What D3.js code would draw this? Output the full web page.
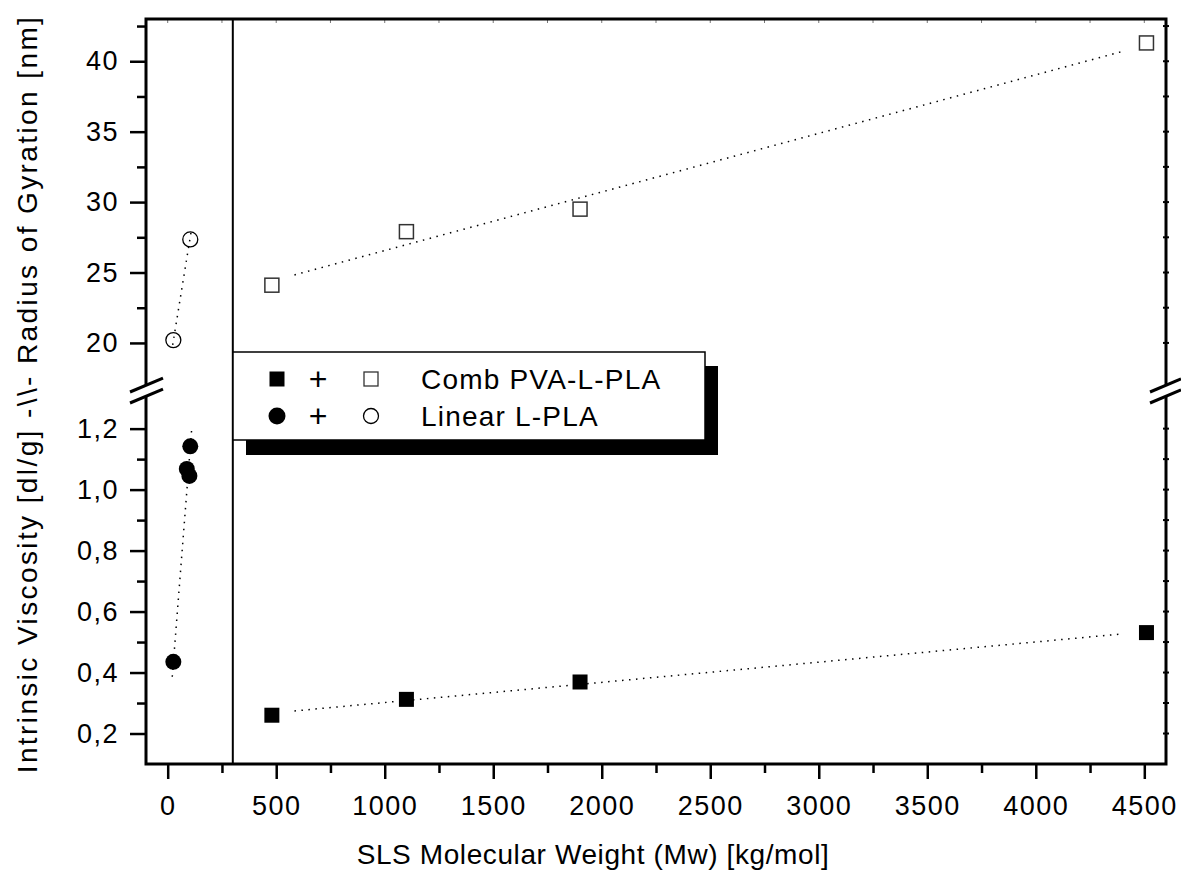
<!DOCTYPE html>
<html>
<head>
<meta charset="utf-8">
<script src="https://cdn.jsdelivr.net/npm/d3@7.9.0/dist/d3.min.js"></script>
<style>
  body { margin: 0; background: #fff; }
  text { font-family: "Liberation Sans", Arial, sans-serif; fill: #000; }
</style>
</head>
<body>
<div id="chart"></div>
<script>
// values
const combMw = [480, 1100, 1900, 4510];
const combVisc = [0.26, 0.312, 0.369, 0.531];
const combRg = [24.1, 27.9, 29.5, 41.3];
const linViscMw = [26, 88, 100, 104];
const linVisc = [0.435, 1.068, 1.045, 1.142];
const linRgMw = [26, 104];
const linRg = [20.2, 27.35];

// dotted fit lines, end points
const combViscFitMw = [584, 4387];
const combViscFit = [0.274, 0.526];
const combRgFitMw = [584, 4390];
const combRgFit = [24.83, 40.66];
const linViscFitMw = [21, 111];
const linViscFit = [0.386, 1.203];
const linRgFitMw = [23, 108];
const linRgFit = [19.86, 27.91];

// ticks
const xTicks = [0, 500, 1000, 1500, 2000, 2500, 3000, 3500, 4000, 4500];
const xMinor = [250, 750, 1250, 1750, 2250, 2750, 3250, 3750, 4250];
const viscTicks = [0.2, 0.4, 0.6, 0.8, 1.0, 1.2];
const viscMinor = [0.3, 0.5, 0.7, 0.9, 1.1];
const rgTicks = [20, 25, 30, 35, 40];
const rgMinor = [22.5, 27.5, 32.5, 37.5, 42.5];
const divider = 300;

const legendLabels = ['Comb PVA-L-PLA', 'Linear L-PLA'];
const xTitle = 'SLS Molecular Weight (Mw) [kg/mol]';
const yTitle = 'Intrinsic Viscosity [dl/g]  -\\\\- Radius of Gyration [nm]';

const width = 1181, height = 877;
const L = 146, R = 1166, T = 19, B = 764;

const svg = d3.select('#chart').append('svg')
  .attr('width', width).attr('height', height);

const x = d3.scaleLinear().domain([-100, 4600]).range([L, R]);
const yRg = d3.scaleLinear().domain([16.8, 43]).range([388, T]);
const yVisc = d3.scaleLinear().domain([0.1, 1.33]).range([B, 389]);

// axes
function styleAxis(g) {
  g.select('.domain').remove();
  g.selectAll('.tick line').attr('stroke', '#000').attr('stroke-width', 2.5);
  g.selectAll('.tick text').attr('font-size', 27).attr('letter-spacing', 1.5);
}

svg.append('g').attr('transform', `translate(0,${B})`)
  .call(d3.axisBottom(x).tickValues(xTicks).tickSize(15).tickPadding(17).tickFormat(d3.format('d')))
  .call(styleAxis);
svg.append('g').attr('transform', `translate(0,${B})`)
  .call(d3.axisBottom(x).tickValues(xMinor).tickSize(9).tickFormat(''))
  .call(styleAxis);

const commaFmt = (d) => d3.format('.1f')(d).replace('.', ',');
svg.append('g').attr('transform', `translate(${L},0)`)
  .call(d3.axisLeft(yVisc).tickValues(viscTicks).tickSize(16).tickPadding(11).tickFormat(commaFmt))
  .call(styleAxis);
svg.append('g').attr('transform', `translate(${L},0)`)
  .call(d3.axisLeft(yVisc).tickValues(viscMinor).tickSize(9).tickFormat(''))
  .call(styleAxis);
svg.append('g').attr('transform', `translate(${L},0)`)
  .call(d3.axisLeft(yRg).tickValues(rgTicks).tickSize(16).tickPadding(11).tickFormat(d3.format('d')))
  .call(styleAxis);
svg.append('g').attr('transform', `translate(${L},0)`)
  .call(d3.axisLeft(yRg).tickValues(rgMinor).tickSize(9).tickFormat(''))
  .call(styleAxis);

// tiny ticks on top and right
svg.append('g').selectAll('line').data(xTicks.concat(xMinor)).join('line')
  .attr('x1', (d) => x(d)).attr('x2', (d) => x(d))
  .attr('y1', T).attr('y2', T + 4)
  .attr('stroke', '#777').attr('stroke-width', 1);
const rightY = viscTicks.concat(viscMinor).map((d) => yVisc(d))
  .concat(rgTicks.concat(rgMinor).map((d) => yRg(d)));
svg.append('g').selectAll('line').data(rightY).join('line')
  .attr('x1', R - 3).attr('x2', R + 3)
  .attr('y1', (d) => d).attr('y2', (d) => d)
  .attr('stroke', '#000').attr('stroke-width', 2);

// frame
svg.append('rect')
  .attr('x', L).attr('y', T).attr('width', R - L).attr('height', B - T)
  .attr('fill', 'none').attr('stroke', '#000').attr('stroke-width', 3);

svg.append('line')
  .attr('x1', x(divider)).attr('x2', x(divider))
  .attr('y1', T).attr('y2', B)
  .attr('stroke', '#000').attr('stroke-width', 2);

// axis breaks
function drawBreak(x0, x1) {
  const g = svg.append('g');
  const dy = (x1 - x0) * 0.42;
  g.append('polygon')
    .attr('points', `${x0},392 ${x1},${392 - dy} ${x1},${403 - dy} ${x0},403`)
    .attr('fill', '#fff');
  g.append('line').attr('x1', x0).attr('y1', 392).attr('x2', x1).attr('y2', 392 - dy)
    .attr('stroke', '#000').attr('stroke-width', 3);
  g.append('line').attr('x1', x0).attr('y1', 403).attr('x2', x1).attr('y2', 403 - dy)
    .attr('stroke', '#000').attr('stroke-width', 3);
}
drawBreak(130, 163);
drawBreak(1150, 1181);

// dotted fit lines
function fitLine(xs, ys, yScale) {
  svg.append('path')
    .datum(d3.zip(xs, ys))
    .attr('d', d3.line().x((d) => x(d[0])).y((d) => yScale(d[1])))
    .attr('fill', 'none').attr('stroke', '#000')
    .attr('stroke-width', 1.5).attr('stroke-dasharray', '1.5,5.5');
}
fitLine(combViscFitMw, combViscFit, yVisc);
fitLine(combRgFitMw, combRgFit, yRg);
fitLine(linViscFitMw, linViscFit, yVisc);
fitLine(linRgFitMw, linRgFit, yRg);

// markers
const sq = 15;
svg.append('g').selectAll('rect').data(d3.zip(combMw, combVisc)).join('rect')
  .attr('x', (d) => x(d[0]) - sq / 2).attr('y', (d) => yVisc(d[1]) - sq / 2)
  .attr('width', sq).attr('height', sq).attr('fill', '#000');
svg.append('g').selectAll('rect').data(d3.zip(combMw, combRg)).join('rect')
  .attr('x', (d) => x(d[0]) - 7).attr('y', (d) => yRg(d[1]) - 7)
  .attr('width', 14).attr('height', 14)
  .attr('fill', 'none').attr('stroke', '#333').attr('stroke-width', 1.5);
svg.append('g').selectAll('circle').data(d3.zip(linViscMw, linVisc)).join('circle')
  .attr('cx', (d) => x(d[0])).attr('cy', (d) => yVisc(d[1]))
  .attr('r', 8).attr('fill', '#000');
svg.append('g').selectAll('circle').data(d3.zip(linRgMw, linRg)).join('circle')
  .attr('cx', (d) => x(d[0])).attr('cy', (d) => yRg(d[1]))
  .attr('r', 7.5).attr('fill', 'none').attr('stroke', '#000').attr('stroke-width', 1.3);

// legend
const lg = svg.append('g');
lg.append('rect').attr('x', 246).attr('y', 366).attr('width', 472).attr('height', 89).attr('fill', '#000');
lg.append('rect').attr('x', 233).attr('y', 352).attr('width', 472).attr('height', 88)
  .attr('fill', '#fff').attr('stroke', '#000').attr('stroke-width', 1.5);
const rowY = [379, 416];
lg.append('rect').attr('x', 277 - 7.5).attr('y', rowY[0] - 7.5).attr('width', 15).attr('height', 15).attr('fill', '#000');
lg.append('rect').attr('x', 371 - 7).attr('y', rowY[0] - 7).attr('width', 14).attr('height', 14)
  .attr('fill', 'none').attr('stroke', '#333').attr('stroke-width', 1.3);
lg.append('circle').attr('cx', 277).attr('cy', rowY[1]).attr('r', 8.5).attr('fill', '#000');
lg.append('circle').attr('cx', 371).attr('cy', rowY[1]).attr('r', 7.5)
  .attr('fill', 'none').attr('stroke', '#000').attr('stroke-width', 1.3);
rowY.forEach((y) => {
  lg.append('text').attr('x', 318).attr('y', y + 11).attr('text-anchor', 'middle')
    .attr('font-size', 32).text('+');
});
lg.selectAll('text.lab').data(legendLabels).join('text').attr('class', 'lab')
  .attr('x', 421).attr('y', (d, i) => rowY[i] + 10)
  .attr('font-size', 28).attr('letter-spacing', 1.2).text((d) => d);

// titles
svg.append('text').attr('x', 593).attr('y', 864).attr('text-anchor', 'middle')
  .attr('font-size', 28).attr('letter-spacing', 0.6).text(xTitle);
svg.append('text').attr('transform', 'translate(37,394) rotate(-90)').attr('text-anchor', 'middle')
  .attr('font-size', 28).attr('letter-spacing', 2.4).text(yTitle);
</script>
</body>
</html>
